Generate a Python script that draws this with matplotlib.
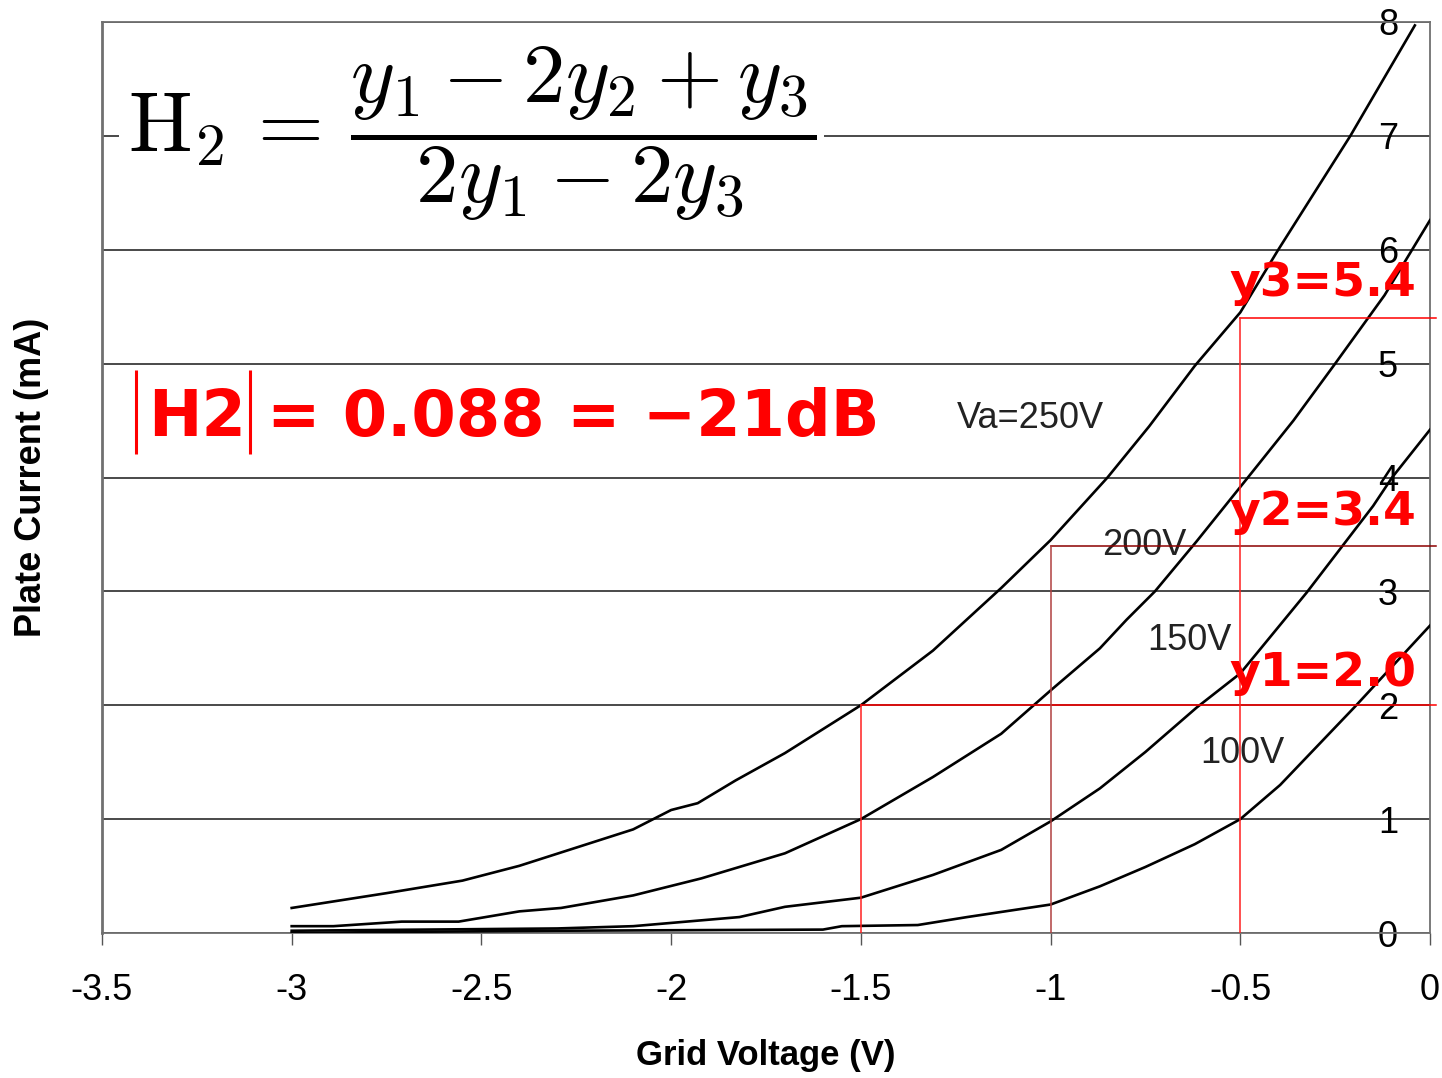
import numpy as np
import matplotlib
matplotlib.use("Agg")
import matplotlib.pyplot as plt

plt.rcParams['font.family'] = ['Liberation Sans', 'DejaVu Sans']

# plate current curves (mA) vs grid voltage (V), one per anode voltage
x_250 = [-3.0, -2.75, -2.55, -2.4, -2.25, -2.1, -2.0, -1.93, -1.83, -1.7, -1.5,
         -1.31, -1.13, -1.0, -0.85, -0.74, -0.62, -0.5, -0.4, -0.21, -0.04]
y_250 = [0.22, 0.35, 0.46, 0.59, 0.75, 0.91, 1.08, 1.14, 1.34, 1.58, 2.0,
         2.48, 3.03, 3.45, 4.0, 4.45, 4.98, 5.45, 6.0, 7.0, 7.97]

x_200 = [-3.0, -2.89, -2.71, -2.56, -2.4, -2.29, -2.1, -1.92, -1.7, -1.5, -1.31,
         -1.13, -1.0, -0.87, -0.8, -0.725, -0.615, -0.48, -0.36, -0.25, -0.12, 0.0]
y_200 = [0.06, 0.06, 0.10, 0.10, 0.19, 0.22, 0.33, 0.48, 0.70, 1.0, 1.37,
         1.75, 2.13, 2.5, 2.75, 3.0, 3.44, 4.0, 4.5, 5.0, 5.6, 6.26]

x_150 = [-3.0, -2.3, -2.1, -1.82, -1.7, -1.5, -1.31, -1.13, -1.0, -0.87, -0.75,
         -0.615, -0.5, -0.325, -0.15, -0.1, 0.0]
y_150 = [0.02, 0.04, 0.06, 0.14, 0.23, 0.31, 0.51, 0.73, 0.98, 1.27, 1.59,
         1.98, 2.28, 2.99, 3.75, 4.0, 4.42]

x_100 = [-3.0, -2.7, -2.3, -1.6, -1.55, -1.35, -1.22, -1.0, -0.87, -0.75, -0.62,
         -0.5, -0.395, -0.2, 0.0]
y_100 = [0.0, 0.01, 0.02, 0.03, 0.06, 0.07, 0.14, 0.25, 0.41, 0.58, 0.78,
         1.0, 1.3, 1.98, 2.7]

curve_labels = ["Va=250V", "200V", "150V", "100V"]
label_x = [-1.247, -0.865, -0.746, -0.606]
label_y = [4.52, 3.40, 2.57, 1.58]

# sample points used in the H2 estimate
grid_pts = [-1.5, -1.0, -0.5]
y_pts = [2.0, 3.4, 5.4]
pt_names = ["y1=2.0", "y2=3.4", "y3=5.4"]
pt_colors = ["#ff0000", "#8b0000", "#ff0000"]
vline_colors = ["#ff2020", "#b04040", "#ff2020"]
pt_text_y = [2.28, 3.69, 5.70]

x_ticks = [-3.5, -3.0, -2.5, -2.0, -1.5, -1.0, -0.5, 0.0]
x_tick_labels = ["-3.5", "-3", "-2.5", "-2", "-1.5", "-1", "-0.5", "0"]
y_ticks = [0, 1, 2, 3, 4, 5, 6, 7, 8]

fig = plt.figure(figsize=(14.42, 10.78), dpi=100)
ax = fig.add_axes([0.0707, 0.1345, 0.921, 0.8451])

ax.set_xlim(-3.5, 0)
ax.set_ylim(0, 8)

ax.set_yticks(y_ticks)
ax.yaxis.grid(True, color="#3a3a3a", lw=1.3)
ax.set_axisbelow(True)

for xs, ys in [(x_250, y_250), (x_200, y_200), (x_150, y_150), (x_100, y_100)]:
    ax.plot(xs, ys, color="black", lw=1.9, zorder=3)

for name, lx, ly in zip(curve_labels, label_x, label_y):
    ax.text(lx, ly, name, fontsize=26, ha="left", va="center", color="#222222", zorder=4)

ext = 0.016
for gx, yv, c, vc in zip(grid_pts, y_pts, pt_colors, vline_colors):
    ax.plot([gx, 0 + ext], [yv, yv], color=c, lw=1.1, zorder=4, clip_on=False)
    ax.plot([gx, gx], [0, yv], color=vc, lw=1.1, zorder=4)

for name, ty in zip(pt_names, pt_text_y):
    ax.text(-0.53, ty, name, fontsize=34, fontweight="bold", family="DejaVu Sans",
            color="#ff0000", ha="left", va="center", zorder=5)

# formula in the top left, white box hides the gridline behind it
ax.text(0.2786, 0.8775, r"$\mathrm{H}_2\,=\,\dfrac{y_1 - 2y_2 + y_3}{2y_1 - 2y_3}$",
        transform=ax.transAxes, fontsize=61, math_fontfamily="cm",
        ha="center", va="center", zorder=6,
        bbox=dict(facecolor="white", edgecolor="none", pad=6))

# |H2| = ... in red, bars drawn thin and tall like the original
red_kw = dict(fontsize=46, fontweight="bold", family="DejaVu Sans", color="#ff0000",
              va="center", zorder=6)
ax.text(-3.378, 4.52, "H2", ha="left", **red_kw)
ax.text(-3.065, 4.52, "= 0.088 = \u221221dB", ha="left", **red_kw)
ax.vlines([-3.41, -3.11], 4.21, 4.94, color="#ff0000", lw=2.2, zorder=6)

ax.set_xticks(x_ticks)
ax.set_xticklabels(x_tick_labels)
ax.tick_params(axis="x", direction="out", length=8.6, width=1, color="#555555",
               labelsize=26, pad=20)
ax.yaxis.tick_right()
ax.tick_params(axis="y", length=0, labelsize=26, pad=-37.5)

for s in ax.spines.values():
    s.set_color("#707070")
    s.set_linewidth(1.3)
ax.spines["left"].set_linewidth(2)

ax.set_xlabel("Grid Voltage (V)", fontsize=25, fontweight="bold")
ax.xaxis.set_label_coords(0.5, -0.134)
ax.xaxis.label.set_va("center")
ax.set_ylabel("Plate Current (mA)", fontsize=26, fontweight="bold")
ax.yaxis.set_label_position("left")
ax.yaxis.set_label_coords(-0.053, 0.5)
ax.yaxis.label.set_va("center")

fig.savefig("out.png", dpi=100, facecolor="white")
